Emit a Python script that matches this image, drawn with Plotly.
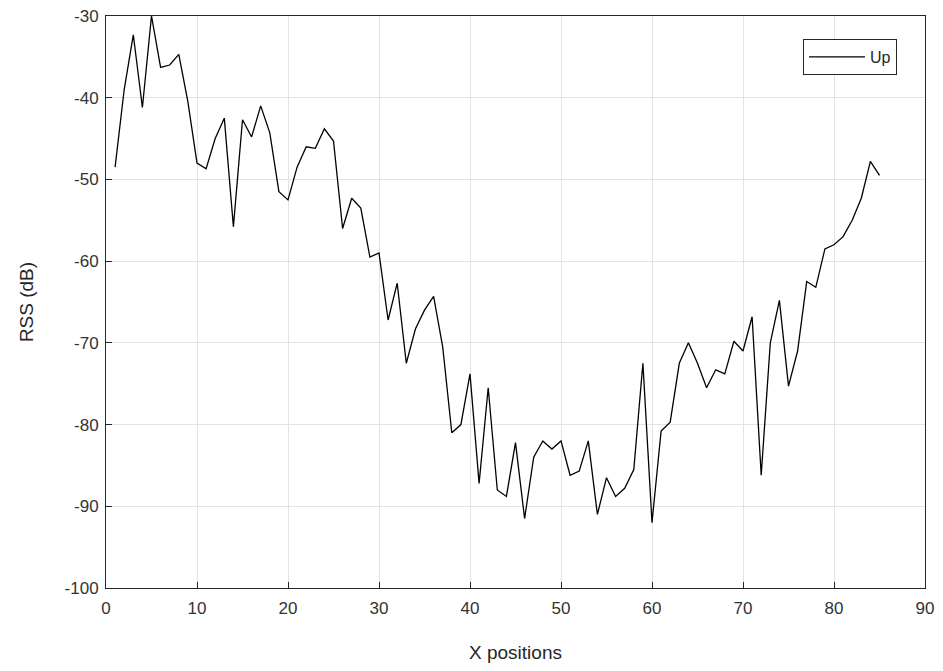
import plotly.graph_objects as go

x_pos = list(range(1, 86))
rss_up = [-48.5, -39, -32.3, -41.2, -30, -36.3, -36, -34.7, -40.5, -48,
          -48.7, -45, -42.5, -55.8, -42.7, -44.8, -41, -44.3, -51.5, -52.5,
          -48.5, -46, -46.2, -43.8, -45.3, -56, -52.3, -53.5, -59.5, -59,
          -67.2, -62.7, -72.5, -68.3, -66, -64.3, -70.5, -81, -80, -73.8,
          -87.2, -75.5, -88, -88.8, -82.2, -91.5, -84, -82, -83, -82,
          -86.2, -85.7, -82, -91, -86.5, -88.8, -87.8, -85.5, -72.5, -92,
          -80.8, -79.7, -72.5, -70, -72.5, -75.5, -73.3, -73.8, -69.8, -71,
          -66.8, -86.2, -70, -64.8, -75.3, -71, -62.5, -63.2, -58.5, -58,
          -57, -55, -52.3, -47.8, -49.5]

x_ticks = list(range(0, 91, 10))
y_ticks = list(range(-100, -29, 10))
y_ticktext = [str(v) for v in y_ticks]

fig = go.Figure()
fig.add_trace(go.Scatter(x=x_pos, y=rss_up, mode="lines", name="Up",
                         line=dict(color="black", width=1.3)))

axis_common = dict(showgrid=True, gridcolor="#e3e3e3", gridwidth=1,
                   showline=True, linecolor="#262626", linewidth=1, mirror=True,
                   ticks="inside", ticklen=6, tickcolor="#262626",
                   zeroline=False, automargin=False,
                   tickfont=dict(size=17, color="#333333"))

fig.update_layout(
    width=943, height=671,
    margin=dict(l=106, r=18, t=16, b=83),
    paper_bgcolor="white", plot_bgcolor="white",
    font=dict(family="Liberation Sans, Arial, sans-serif", color="#262626"),
    xaxis=dict(range=[0, 90], tickvals=x_ticks, ticklabelstandoff=5,
               title=dict(text="X positions", font=dict(size=19), standoff=28),
               **axis_common),
    yaxis=dict(range=[-100, -30], tickvals=y_ticks, ticktext=y_ticktext,
               ticklabelstandoff=3,
               title=dict(text="RSS (dB)", font=dict(size=19), standoff=25),
               **axis_common),
    showlegend=True,
    legend=dict(x=0.851, y=0.96, xanchor="left", yanchor="top",
                bgcolor="white", bordercolor="#262626", borderwidth=1,
                itemwidth=56, font=dict(size=16, color="#262626")),
)

fig.write_html("out.html", config={"displayModeBar": False},
               post_script="document.body.style.margin='0';document.body.style.overflow='hidden';")
